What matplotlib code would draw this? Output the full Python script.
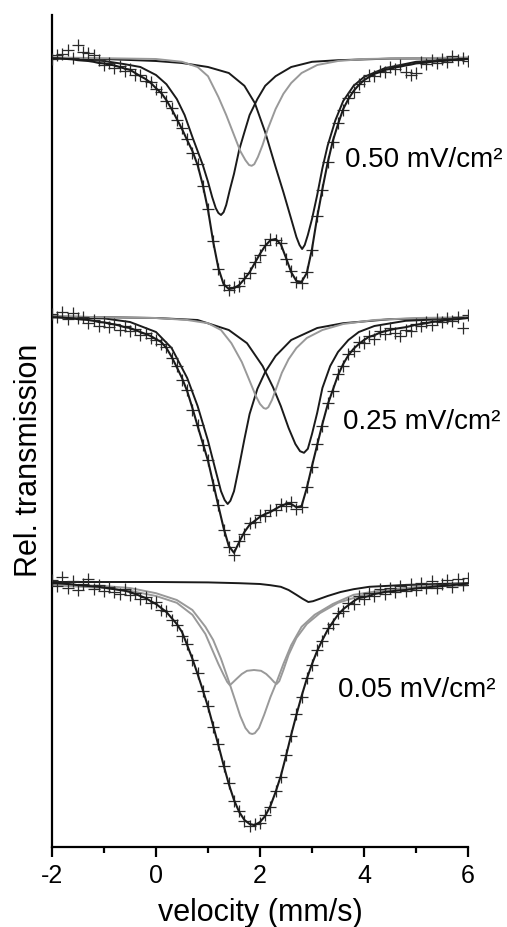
#!/usr/bin/env python3
import numpy as np
import matplotlib
matplotlib.use("Agg")
import matplotlib.pyplot as plt

plt.rcParams['font.family'] = ['Liberation Sans', 'DejaVu Sans']
plt.rcParams['axes.unicode_minus'] = False

# velocity channels (mm/s) shared by the measured points and the total fits
velocity = [-2.0, -1.9, -1.8, -1.7, -1.6, -1.5, -1.4, -1.3, -1.2, -1.1,
            -1.0, -0.9, -0.8, -0.7, -0.6, -0.5, -0.4, -0.3, -0.2, -0.1,
            0.0, 0.1, 0.2, 0.3, 0.4, 0.5, 0.6, 0.7, 0.8, 0.9,
            1.0, 1.1, 1.2, 1.3, 1.4, 1.5, 1.6, 1.7, 1.8, 1.9,
            2.0, 2.1, 2.2, 2.3, 2.4, 2.5, 2.6, 2.7, 2.8, 2.9,
            3.0, 3.1, 3.2, 3.3, 3.4, 3.5, 3.6, 3.7, 3.8, 3.9,
            4.0, 4.1, 4.2, 4.3, 4.4, 4.5, 4.6, 4.7, 4.8, 4.9,
            5.0, 5.1, 5.2, 5.3, 5.4, 5.5, 5.6, 5.7, 5.8, 5.9, 6.0]

labels = ["0.50 mV/cm\u00b2", "0.25 mV/cm\u00b2", "0.05 mV/cm\u00b2"]

# ---- 0.50 mV/cm2 : relative transmission (%)
data_050 = [99.95, 100.05, 100.08, 100.17, 99.98, 100.30, 100.12, 100.10, 100.05, 99.92,
            99.80, 99.84, 99.72, 99.78, 99.66, 99.70, 99.55, 99.56, 99.40, 99.38,
            99.20, 99.12, 98.90, 98.72, 98.42, 98.22, 97.95, 97.60, 97.32, 96.78,
            96.20, 95.40, 94.70, 94.30, 94.18, 94.25, 94.28, 94.48, 94.60, 94.88,
            95.05, 95.30, 95.45, 95.42, 95.35, 94.95, 94.65, 94.38, 94.36, 94.62,
            95.18, 96.02, 96.68, 97.38, 97.88, 98.35, 98.68, 98.98, 99.12, 99.33,
            99.40, 99.55, 99.52, 99.66, 99.62, 99.74, 99.70, 99.80, 99.62, 99.55,
            99.60, 99.88, 99.82, 99.92, 99.86, 99.95, 99.88, 100.02, 99.92, 99.98, 99.90]
fit_050 = [99.97, 99.97, 99.96, 99.95, 99.94, 99.92, 99.91, 99.90, 99.88, 99.85,
           99.84, 99.81, 99.79, 99.75, 99.71, 99.68, 99.60, 99.52, 99.45, 99.35,
           99.22, 99.10, 98.92, 98.70, 98.45, 98.20, 97.92, 97.65, 97.30, 96.80,
           96.18, 95.38, 94.72, 94.32, 94.20, 94.22, 94.30, 94.45, 94.62, 94.85,
           95.08, 95.28, 95.42, 95.45, 95.32, 94.98, 94.62, 94.40, 94.38, 94.60,
           95.20, 96.00, 96.70, 97.35, 97.90, 98.32, 98.70, 98.95, 99.15, 99.30,
           99.42, 99.50, 99.58, 99.62, 99.68, 99.70, 99.74, 99.76, 99.79, 99.81,
           99.84, 99.85, 99.86, 99.88, 99.89, 99.90, 99.91, 99.92, 99.94, 99.95, 99.95]
c1_050_x = [-2, -1.5, -1, -0.6, -0.3, 0, 0.2, 0.4, 0.55, 0.7, 0.8, 0.9, 1.0, 1.08, 1.15, 1.2,
            1.25, 1.3, 1.35, 1.42, 1.5, 1.6, 1.7, 1.8, 1.95, 2.1, 2.3, 2.6, 3.0, 3.5, 4.5, 6]
c1_050_y = [99.97, 99.95, 99.90, 99.82, 99.75, 99.55, 99.32, 98.95, 98.55, 98.00, 97.65, 97.30,
            96.88, 96.50, 96.22, 96.10, 96.05, 96.12, 96.30, 96.68, 97.08, 97.68, 98.12, 98.55,
            98.95, 99.28, 99.52, 99.75, 99.88, 99.92, 99.96, 99.97]
c2_050_x = [-2, -1, 0, 0.5, 1.0, 1.4, 1.7, 1.9, 2.1, 2.3, 2.45, 2.6, 2.7, 2.76, 2.81, 2.86,
            2.92, 3.0, 3.1, 3.2, 3.3, 3.45, 3.6, 3.8, 4.0, 4.4, 5.0, 6.0]
c2_050_y = [99.97, 99.95, 99.90, 99.85, 99.75, 99.60, 99.28, 98.85, 98.12, 97.25, 96.62, 95.95,
            95.50, 95.30, 95.20, 95.30, 95.55, 95.95, 96.55, 97.22, 97.78, 98.42, 98.90, 99.28,
            99.50, 99.72, 99.88, 99.95]
g_050_x = [-2, -1, 0, 0.5, 0.8, 1.0, 1.2, 1.35, 1.5, 1.62, 1.72, 1.79, 1.84, 1.89, 1.96, 2.05,
           2.15, 2.3, 2.45, 2.6, 2.8, 3.1, 3.5, 4.0, 5.0, 6.0]
g_050_y = [99.99, 99.97, 99.95, 99.88, 99.75, 99.52, 99.00, 98.55, 98.05, 97.65, 97.42, 97.30,
           97.28, 97.32, 97.50, 97.80, 98.20, 98.70, 99.08, 99.35, 99.60, 99.80, 99.90, 99.95,
           99.97, 99.99]

# ---- 0.25 mV/cm2
data_025 = [100.05, 99.98, 100.10, 99.92, 100.08, 99.95, 99.98, 99.82, 99.90, 99.75,
            99.86, 99.72, 99.80, 99.66, 99.75, 99.62, 99.68, 99.52, 99.58, 99.45,
            99.40, 99.30, 99.22, 98.95, 98.75, 98.40, 98.15, 97.65, 97.28, 96.78,
            96.40, 95.78, 95.28, 94.66, 94.22, 94.02, 94.38, 94.55, 94.82, 94.85,
            95.02, 95.00, 95.14, 95.15, 95.30, 95.26, 95.34, 95.18, 95.22, 95.72,
            96.22, 96.80, 97.26, 97.82, 98.12, 98.55, 98.76, 99.05, 99.12, 99.35,
            99.32, 99.50, 99.42, 99.62, 99.55, 99.70, 99.58, 99.50, 99.66, 99.62,
            99.80, 99.74, 99.86, 99.78, 99.92, 99.84, 99.96, 99.88, 99.98, 99.70, 100.02]
fit_025 = [99.97, 99.97, 99.96, 99.95, 99.94, 99.92, 99.91, 99.90, 99.88, 99.85,
           99.84, 99.81, 99.79, 99.76, 99.72, 99.70, 99.65, 99.60, 99.55, 99.50,
           99.42, 99.35, 99.20, 98.98, 98.72, 98.45, 98.12, 97.70, 97.25, 96.82,
           96.38, 95.82, 95.25, 94.70, 94.25, 94.08, 94.35, 94.60, 94.78, 94.88,
           94.98, 95.05, 95.10, 95.18, 95.25, 95.30, 95.30, 95.22, 95.25, 95.70,
           96.25, 96.78, 97.30, 97.78, 98.15, 98.52, 98.80, 99.02, 99.18, 99.30,
           99.40, 99.48, 99.52, 99.58, 99.62, 99.65, 99.68, 99.70, 99.72, 99.75,
           99.78, 99.80, 99.82, 99.85, 99.86, 99.88, 99.90, 99.91, 99.92, 99.94, 99.95]
c1_025_x = [-2, -1, -0.5, 0, 0.3, 0.6, 0.8, 1.0, 1.15, 1.25, 1.32, 1.378, 1.43, 1.5, 1.6, 1.7,
            1.8, 1.95, 2.1, 2.3, 2.6, 3.1, 3.6, 4.5, 6]
c1_025_y = [99.97, 99.94, 99.85, 99.60, 99.20, 98.45, 97.75, 96.88, 96.12, 95.62, 95.40, 95.30,
            95.38, 95.62, 96.25, 96.92, 97.55, 98.18, 98.60, 99.00, 99.40, 99.70, 99.82, 99.92,
            99.96]
c2_025_x = [-2, -1, 0, 0.8, 1.4, 1.75, 2.05, 2.25, 2.4, 2.55, 2.68, 2.77, 2.846, 2.92, 3.0,
            3.1, 3.2, 3.35, 3.5, 3.7, 3.9, 4.2, 4.8, 6]
c2_025_y = [99.99, 99.97, 99.95, 99.90, 99.65, 99.32, 98.75, 98.22, 97.75, 97.20, 96.80, 96.62,
            96.58, 96.68, 97.05, 97.58, 98.20, 98.75, 99.10, 99.40, 99.60, 99.75, 99.88, 99.95]
g_025_x = [-2, -1, 0, 0.6, 1.0, 1.25, 1.45, 1.65, 1.8, 1.92, 2.0, 2.07, 2.115, 2.16, 2.23,
           2.32, 2.42, 2.55, 2.7, 2.9, 3.2, 3.6, 4.2, 5, 6]
g_025_y = [99.99, 99.97, 99.95, 99.90, 99.82, 99.65, 99.32, 98.85, 98.38, 98.00, 97.80, 97.70,
           97.68, 97.72, 97.90, 98.22, 98.58, 98.92, 99.20, 99.45, 99.65, 99.80, 99.90, 99.95,
           99.97]

# ---- 0.05 mV/cm2
data_005 = [100.05, 99.90, 100.12, 99.85, 100.02, 99.80, 99.95, 100.08, 99.82, 99.92,
            99.78, 99.88, 99.76, 99.70, 99.82, 99.68, 99.72, 99.58, 99.62, 99.48,
            99.50, 99.30, 99.28, 99.05, 98.92, 98.65, 98.45, 98.05, 97.72, 97.28,
            96.90, 96.38, 95.94, 95.40, 94.97, 94.53, 94.27, 94.03, 93.90, 93.94,
            93.98, 94.17, 94.38, 94.77, 95.13, 95.67, 96.16, 96.70, 97.13, 97.60,
            97.92, 98.30, 98.52, 98.84, 98.96, 99.22, 99.28, 99.48, 99.45, 99.66,
            99.58, 99.72, 99.64, 99.82, 99.70, 99.86, 99.74, 99.90, 99.78, 99.95,
            99.80, 99.98, 99.84, 100.02, 99.86, 99.95, 100.05, 99.88, 100.08, 99.92, 100.10]
fit_005 = [99.97, 99.97, 99.96, 99.95, 99.94, 99.92, 99.91, 99.90, 99.89, 99.88,
           99.86, 99.84, 99.82, 99.80, 99.78, 99.75, 99.70, 99.65, 99.60, 99.52,
           99.45, 99.35, 99.25, 99.10, 98.95, 98.75, 98.42, 98.08, 97.70, 97.30,
           96.88, 96.40, 95.92, 95.42, 94.95, 94.55, 94.25, 94.05, 93.95, 93.92,
           94.00, 94.15, 94.40, 94.75, 95.15, 95.65, 96.18, 96.68, 97.15, 97.58,
           97.95, 98.28, 98.55, 98.80, 99.00, 99.18, 99.32, 99.42, 99.52, 99.60,
           99.62, 99.65, 99.70, 99.72, 99.75, 99.76, 99.78, 99.79, 99.80, 99.82,
           99.84, 99.85, 99.86, 99.88, 99.89, 99.90, 99.91, 99.92, 99.94, 99.95, 99.96]
c1_005_x = [-2, 0, 1.0, 1.6, 2.0, 2.2, 2.4, 2.55, 2.7, 2.82, 2.93, 3.02, 3.15, 3.3, 3.55, 3.8,
            4.1, 4.7, 5.4, 6]
c1_005_y = [100.00, 100.00, 99.99, 99.97, 99.95, 99.92, 99.88, 99.80, 99.68, 99.58, 99.50,
            99.52, 99.58, 99.65, 99.75, 99.82, 99.88, 99.92, 99.95, 99.97]
g1_005_x = [-2, -1, -0.5, 0, 0.4, 0.7, 0.95, 1.1, 1.25, 1.4, 1.52, 1.62, 1.72, 1.8, 1.85, 1.9,
            1.98, 2.08, 2.2, 2.32, 2.45, 2.6, 2.8, 3.05, 3.4, 3.8, 4.4, 5.2, 6]
g1_005_y = [99.95, 99.90, 99.85, 99.72, 99.55, 99.30, 98.88, 98.55, 98.08, 97.52, 97.05, 96.65,
            96.35, 96.22, 96.20, 96.22, 96.35, 96.68, 97.12, 97.50, 97.95, 98.42, 98.88, 99.18,
            99.45, 99.68, 99.80, 99.90, 99.95]
g2_005_x = [-2, -1, -0.5, 0, 0.4, 0.7, 0.95, 1.1, 1.2, 1.3, 1.37, 1.42, 1.47, 1.55, 1.65, 1.75,
            1.885, 2.02, 2.12, 2.2, 2.27, 2.32, 2.37, 2.45, 2.55, 2.7, 2.9, 3.15, 3.5, 4.0, 4.6,
            5.3, 6]
g2_005_y = [99.92, 99.85, 99.78, 99.65, 99.48, 99.18, 98.70, 98.25, 97.95, 97.68, 97.50, 97.42,
            97.48, 97.58, 97.70, 97.78, 97.80, 97.78, 97.70, 97.60, 97.50, 97.45, 97.52, 97.80,
            98.18, 98.60, 98.95, 99.22, 99.48, 99.68, 99.80, 99.88, 99.92]

# vertical stacking of the three spectra (% units)
offsets = [13.125, 6.65, 0.0]
dark = '#1a1a1a'
grey = '#999999'

fig = plt.figure(figsize=(5.07, 9.27), dpi=100)
ax = fig.add_axes([52 / 507, 1 - 847 / 927, 416 / 507, 832 / 927])

spectra = [
    (data_050, fit_050, [(c1_050_x, c1_050_y, dark), (c2_050_x, c2_050_y, dark),
                         (g_050_x, g_050_y, grey)]),
    (data_025, fit_025, [(c1_025_x, c1_025_y, dark), (c2_025_x, c2_025_y, dark),
                         (g_025_x, g_025_y, grey)]),
    (data_005, fit_005, [(c1_005_x, c1_005_y, dark), (g1_005_x, g1_005_y, grey),
                         (g2_005_x, g2_005_y, grey)]),
]
label_pos = [(3.63, 110.55), (3.59, 104.0), (3.50, 97.3)]

v = np.array(velocity)
for (data, fit, comps), off, lab, (lx, ly) in zip(spectra, offsets, labels, label_pos):
    for cx, cy, col in comps:
        ax.plot(cx, np.array(cy) + off, color=col, lw=1.4, zorder=2)
    ax.plot(v, np.array(data) + off, '+', color='#2a2a2a', ms=8, mew=0.9, zorder=3)
    ax.plot(v, np.array(fit) + off, color=dark, lw=1.5, zorder=4)
    ax.text(lx, ly, lab, fontsize=20, ha='left', va='center')

ax.set_xlim(-2, 6)
ax.set_ylim(93.375, 114.175)
ax.spines['top'].set_visible(False)
ax.spines['right'].set_visible(False)
ax.spines['left'].set_linewidth(1.6)
ax.spines['bottom'].set_linewidth(1.6)
ax.set_yticks([])
ax.set_xticks([-2, 0, 2, 4, 6])
ax.set_xticks([-1, 1, 3, 5], minor=True)
ax.tick_params(axis='x', which='major', length=7, width=1.6, labelsize=18, pad=5)
ax.tick_params(axis='x', which='minor', length=4, width=1.6)

fig.text(260 / 507, 1 - 921 / 927, 'velocity (mm/s)', fontsize=22,
         ha='center', va='baseline')
fig.text(37.5 / 507, 1 - 460 / 927, 'Rel. transmission', fontsize=22, rotation=90,
         rotation_mode='anchor', ha='center', va='baseline')

fig.savefig('out.png', dpi=100)
